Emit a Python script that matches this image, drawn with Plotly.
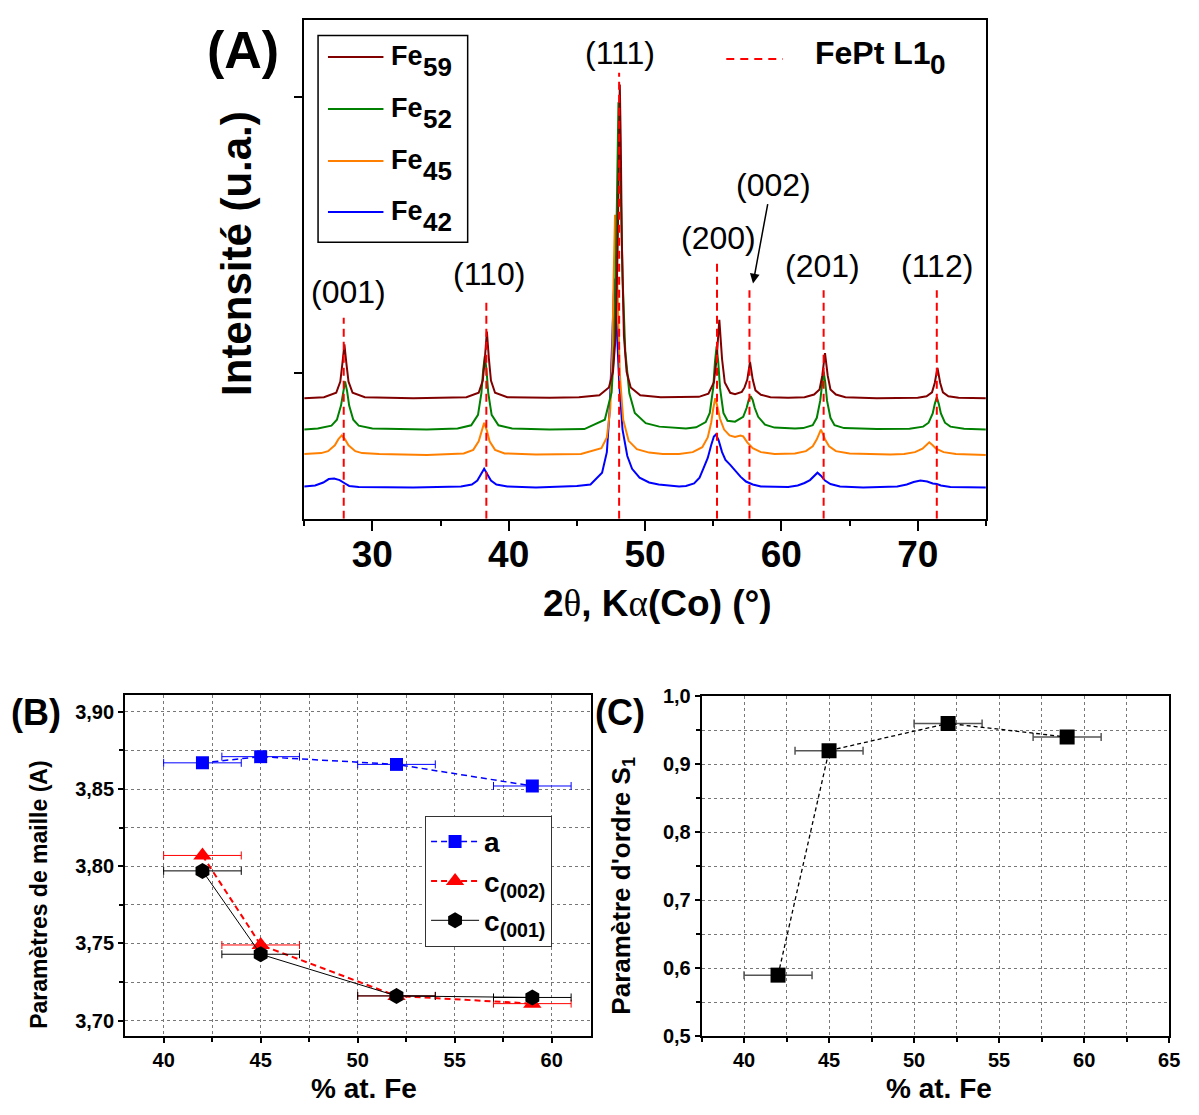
import plotly.graph_objects as go

W, H = 1199, 1115
FONT = "Liberation Sans, Arial, sans-serif"


def px(x):
    return x / W


def py(y):
    return 1 - y / H


# ---------------- Panel A data (XRD patterns, arbitrary intensity units) ----------------
fe59_x = [25, 26.45, 27.35, 27.65, 27.8, 27.95, 28.1, 28.25, 28.55, 29.45, 33, 36.9, 37.8, 38.1, 38.25, 38.4, 38.55, 38.7, 39.0, 39.9,
          43, 45.15, 46.65, 47.35, 47.65, 47.85, 48.0, 48.08, 48.15, 48.22, 48.3, 48.45, 48.65, 48.95, 49.65, 51.15,
          53.95, 54.65, 55.05, 55.25, 55.45, 55.65, 55.85, 56.25, 56.6, 57.1, 57.3, 57.5, 57.7, 57.9, 58.1, 58.5, 59.2,
          60.5, 61.7, 62.4, 62.8, 63.0, 63.2, 63.4, 63.6, 64.0, 64.7, 67, 70.0, 70.65, 71.05, 71.25, 71.45, 71.65, 71.85,
          72.25, 73.0, 75]
fe59_y = [123, 124, 128.5, 140, 158, 178, 158, 140, 128.5, 124, 123, 124, 128.6, 141, 163, 191, 163, 141, 128.6, 124,
          123.5, 124, 126, 134, 150, 187, 283, 385, 443, 385, 283, 187, 150, 134, 126, 124,
          124.4, 127.7, 139, 163, 203, 163, 139, 128.5, 127, 129.5, 134, 142, 160, 142, 131, 126.5, 124,
          123.5, 124, 126.7, 132, 146, 169, 146, 132, 126.7, 124, 123, 123.5, 125, 129, 138.5, 154, 138.5, 129,
          125, 123.5, 123]

fe52_x = [25, 26.0, 27.0, 27.4, 27.7, 27.85, 28.0, 28.15, 28.3, 28.6, 29.0, 30.0, 34, 36.25, 37.25, 37.75, 38.0, 38.13, 38.25,
          38.37, 38.5, 38.75, 39.25, 40.25, 43, 45.55, 47.05, 47.55, 47.75, 47.9, 47.98, 48.05, 48.12, 48.2, 48.35, 48.55,
          48.85, 49.25, 50.05, 51.05, 53.0, 53.75, 54.45, 54.75, 55.0, 55.13, 55.25, 55.37, 55.5, 55.75, 56.05, 56.6,
          57.2, 57.45, 57.6, 57.75, 57.9, 58.05, 58.3, 58.8, 59.5, 61.0, 61.6, 62.3, 62.6, 62.85, 62.98, 63.1, 63.22,
          63.35, 63.6, 63.9, 64.6, 67.0, 69.4, 70.4, 70.8, 71.1, 71.25, 71.4, 71.55, 71.7, 72.0, 72.4, 73.4, 75]
fe52_y = [91, 92, 95, 101, 115.5, 130, 140, 130, 115.5, 101, 95, 92, 91, 92, 95.4, 106, 128.5, 152, 166,
          152, 128.5, 106, 95.4, 92, 91, 91.5, 101, 129, 179, 288, 381, 425, 405, 351, 247, 171,
          128, 108, 97.5, 94, 92, 93.3, 98.6, 108, 133.5, 160, 176, 160, 133.5, 108, 100, 99,
          104, 113, 121, 125, 121, 113, 104, 96, 93, 92, 92.5, 95.5, 103, 120.5, 139, 150, 139,
          120.5, 103, 95.5, 92.5, 91.5, 91.8, 94, 98, 107.5, 117, 124, 117, 107.5, 98, 94, 91.8, 91]

fe45_x = [25, 26.25, 26.75, 27.25, 27.5, 27.75, 28.0, 28.25, 28.75, 29.25, 30.5, 34, 36.7, 37.4, 37.8, 38.0, 38.2, 38.4,
          38.6, 39.0, 39.7, 42, 45.3, 46.8, 47.2, 47.45, 47.6, 47.7, 47.8, 47.9, 48.0, 48.15, 48.4, 48.8, 49.4, 50.3,
          51.3, 52.5, 53.5, 54.2, 54.6, 54.85, 55.0, 55.15, 55.3, 55.5, 55.8, 56.2, 56.6, 57.0, 57.2, 57.5, 57.9, 58.5,
          59.5, 61.0, 61.8, 62.3, 62.6, 62.75, 62.9, 63.05, 63.2, 63.5, 64.0, 65.0, 68.0, 69.0, 69.8, 70.35, 70.6,
          70.85, 71.1, 71.35, 71.9, 72.8, 75]
fe45_y = [66, 67, 69, 75, 81, 85, 81, 75, 69, 67, 66, 65, 66.7, 70.3, 79, 90, 98, 90,
          79, 70.3, 66.7, 65.5, 66, 72, 83, 112, 168, 247, 310, 276, 214, 148, 101, 79.5, 71, 67.5,
          66.2, 66, 68, 73, 83, 98, 112, 123, 115, 102, 91, 85, 83.5, 85, 84, 78, 72, 68,
          66, 66.5, 69, 74, 81, 86.5, 91, 86.5, 81, 74, 69, 66.5, 65.5, 66, 68, 71.5, 75,
          78, 75, 71.5, 68, 66, 65]

fe42_x = [25, 25.8, 26.4, 26.8, 27.2, 27.6, 28.0, 28.3, 29, 33, 36.5, 37.3, 37.7, 37.95, 38.2, 38.45, 38.7, 39.1, 39.9,
          42, 45.0, 46.0, 46.85, 47.2, 47.4, 47.55, 47.65, 47.75, 47.85, 47.95, 48.1, 48.35, 48.7, 49.05, 49.6, 50.3,
          51.0, 52.5, 53.0, 53.6, 54.0, 54.3, 54.6, 54.85, 55.05, 55.2, 55.4, 55.65, 55.9, 56.25, 56.6, 57.0, 57.4,
          57.9, 58.5, 59.5, 60.5, 61.2, 61.7, 62.1, 62.4, 62.65, 62.9, 63.2, 63.6, 64.3, 66, 68.5, 69.2, 69.7, 70.2,
          70.7, 71.1, 71.4, 71.7, 72.4, 75]
fe42_y = [33, 34, 37, 40.5, 41, 39.5, 36, 33.5, 32.5, 32, 33, 35, 39, 45, 51, 45, 39, 35, 33,
          32, 33.5, 35, 47, 68, 110, 165, 215, 245, 222, 185, 140, 91, 64, 51, 42, 37,
          35, 33, 33.5, 36, 42, 52, 62, 75, 84, 86, 80, 68, 60, 55, 49, 43, 38,
          35, 33, 32.5, 32.5, 34, 36.5, 39.5, 44, 47, 44, 39, 35.5, 33, 32, 33, 35, 37.5, 39,
          38, 36, 35.5, 34, 32.5, 32]

# FePt L1_0 reference reflections
hkl_labels = ["(001)", "(110)", "(111)", "(200)", "(002)", "(201)", "(112)"]
hkl_pos = [27.9, 38.36, 48.1, 55.28, 57.66, 63.1, 71.4]

# ---------------- Panels B and C data ----------------
fe_pct = [42, 45, 52, 59]
fe_err = [2, 2, 2, 2]
a_param = [3.867, 3.871, 3.866, 3.852]
c002_param = [3.807, 3.749, 3.716, 3.711]
c001_param = [3.797, 3.743, 3.716, 3.715]
s_order = [0.59, 0.92, 0.96, 0.94]

# ---------------- styling / layout helpers ----------------
series_A = [
    ("Fe", "42", fe42_x, fe42_y, "#0000FF"),
    ("Fe", "45", fe45_x, fe45_y, "#FF8000"),
    ("Fe", "52", fe52_x, fe52_y, "#008000"),
    ("Fe", "59", fe59_x, fe59_y, "#800000"),
]
hkl_line_top = [205, 225, 455, 261, 233, 233, 233]
hkl_label_xy = [(28.27, 231), (38.52, 250), (48.18, 475), (55.38, 286), (59.45, 340), (63.0, 258), (71.44, 258)]

fig = go.Figure()

for _, _, xs, ys, col in series_A:
    fig.add_trace(go.Scatter(x=xs, y=ys, mode="lines", line=dict(color=col, width=2),
                             showlegend=False, xaxis="x", yaxis="y", hoverinfo="skip"))

for pos, top in zip(hkl_pos, hkl_line_top):
    fig.add_trace(go.Scatter(x=[pos, pos], y=[0, top], mode="lines",
                             line=dict(color="#FF0000", width=2, dash="8px,5px"),
                             showlegend=False, xaxis="x", yaxis="y", hoverinfo="skip"))

# Panel B
fig.add_trace(go.Scatter(x=fe_pct, y=a_param, mode="lines+markers", name="a",
                         line=dict(color="#0000FF", width=1.5, dash="6px,4px"),
                         marker=dict(symbol="square", size=13, color="#0000FF"),
                         error_x=dict(type="data", array=fe_err, color="#0000FF", thickness=1, width=4),
                         xaxis="x2", yaxis="y2", legend="legend2"))
fig.add_trace(go.Scatter(x=fe_pct, y=c002_param, mode="lines+markers", name="c<sub>(002)</sub>",
                         line=dict(color="#FF0000", width=2, dash="6px,4px"),
                         marker=dict(symbol="triangle-up", size=16, color="#FF0000"),
                         error_x=dict(type="data", array=fe_err, color="#FF0000", thickness=1, width=4),
                         xaxis="x2", yaxis="y2", legend="legend2"))
fig.add_trace(go.Scatter(x=fe_pct, y=c001_param, mode="lines+markers", name="c<sub>(001)</sub>",
                         line=dict(color="#000000", width=1),
                         marker=dict(symbol="hexagon", size=16, color="#000000"),
                         error_x=dict(type="data", array=fe_err, color="#000000", thickness=1, width=4),
                         xaxis="x2", yaxis="y2", legend="legend2"))

# Panel C
fig.add_trace(go.Scatter(x=fe_pct, y=s_order, mode="lines+markers", showlegend=False,
                         line=dict(color="#000000", width=1.3, dash="4px,3px"),
                         marker=dict(symbol="square", size=15, color="#000000"),
                         error_x=dict(type="data", array=fe_err, color="#555555", thickness=1.5, width=4),
                         xaxis="x3", yaxis="y3"))

tick_bold = dict(family=FONT, size=20, color="black", weight="bold")
grid_common = dict(showgrid=True, gridcolor="#777777", griddash="dot", gridwidth=1)
box_common = dict(showline=True, linecolor="black", linewidth=1.5, mirror=True, zeroline=False,
                  ticks="outside", ticklen=5, tickwidth=1.5, tickcolor="black")
minor_grid = dict(ticks="outside", ticklen=4, showgrid=True, gridcolor="#777777", griddash="dot", gridwidth=1)

fig.update_layout(
    width=W, height=H, margin=dict(l=0, r=0, t=0, b=0),
    paper_bgcolor="white", plot_bgcolor="white",
    separators=", ",
    showlegend=True,
    xaxis=dict(domain=[px(307), px(995)], range=[25, 75], anchor="y",
               showline=True, linecolor="black", linewidth=2, mirror=True, zeroline=False, showgrid=False,
               ticks="outside", ticklen=10, tickwidth=2, tickcolor="black", tick0=0, dtick=10,
               ticklabelstandoff=-8,
               minor=dict(dtick=5, ticks="outside", ticklen=5, tickwidth=2, tickcolor="black"),
               tickfont=dict(family=FONT, size=37, color="black", weight="bold")),
    yaxis=dict(domain=[py(518), py(9)], range=[0, 509], anchor="x",
               showline=True, linecolor="black", linewidth=2, mirror=True, zeroline=False, showgrid=False,
               ticks="outside", ticklen=8, tickwidth=2, tickcolor="black",
               tickmode="array", tickvals=[149, 430], ticktext=["", ""]),
    xaxis2=dict(domain=[px(126), px(596)], range=[38, 62], anchor="y2", tick0=0, dtick=5,
                minor=dict(dtick=2.5, **minor_grid), tickfont=tick_bold, **grid_common, **box_common),
    yaxis2=dict(domain=[py(1046), py(698)], range=[3.6898, 3.9108], anchor="x2", tick0=3.7, dtick=0.05,
                tickformat=".2f", minor=dict(dtick=0.025, **minor_grid),
                tickfont=tick_bold, **grid_common, **box_common),
    xaxis3=dict(domain=[px(708), px(1180)], range=[37.5, 65], anchor="y3", tick0=0, dtick=5,
                minor=dict(dtick=2.5, **minor_grid), tickfont=tick_bold, **grid_common, **box_common),
    yaxis3=dict(domain=[py(1046), py(699)], range=[0.5, 1.0], anchor="x3", tick0=0.5, dtick=0.1,
                tickformat=".1f", minor=dict(dtick=0.05, **minor_grid),
                tickfont=tick_bold, **grid_common, **box_common),
    legend2=dict(x=px(429), y=py(821), xanchor="left", yanchor="top", bgcolor="white",
                 bordercolor="#333333", borderwidth=1,
                 font=dict(family=FONT, size=28, color="black", weight="bold"), itemwidth=48),
)

ann = []


def text(x, y, s, size, bold=True, xanchor="center", yanchor="middle", angle=0, xref="paper", yref="paper"):
    ann.append(dict(x=x, y=y, xref=xref, yref=yref, text=s, showarrow=False, textangle=angle,
                    xanchor=xanchor, yanchor=yanchor,
                    font=dict(family=FONT, size=size, color="black", weight="bold" if bold else "normal")))


SERIF = "font-family:Liberation Serif, Times New Roman, serif;font-weight:normal"

# Panel A texts
text(px(245), py(40), "(A)", 52)
text(px(238), py(247), "Intensité (u.a.)", 42, angle=-90)
text(px(664), py(604),
     f"2<span style='{SERIF}'>θ</span>, K<span style='{SERIF}'>α</span>(Co) (°)", 37)
for lab, (lx, ly) in zip(hkl_labels, hkl_label_xy):
    text(lx, ly, lab, 32, bold=False, xref="x", yref="y")
ann.append(dict(x=57.92, y=240, xref="x", yref="y", ax=15, ay=-81, text="", showarrow=True,
                arrowhead=2, arrowsize=1.3, arrowwidth=1.5, arrowcolor="black"))

# Panel A legend (drawn)
shapes = [dict(type="rect", xref="paper", yref="paper", x0=px(321), x1=px(472), y0=py(236), y1=py(25),
               line=dict(color="black", width=1.5))]
leg_rows = [47, 100, 153, 205]
for (base, sub, _, _, col), yy in zip(series_A[::-1], leg_rows):
    shapes.append(dict(type="line", xref="paper", yref="paper", x0=px(331), x1=px(387), y0=py(yy), y1=py(yy),
                       line=dict(color=col, width=2)))
    text(px(393), py(yy - 1), base, 27, xanchor="left")
    text(px(425), py(yy + 10), sub, 26, xanchor="left")

shapes.append(dict(type="line", xref="paper", yref="paper", x0=px(733), x1=px(790), y0=py(49), y1=py(49),
                   line=dict(color="#FF0000", width=2, dash="8px,6px")))
text(px(821), py(43), "FePt L1", 32, xanchor="left")
text(px(937), py(55), "0", 28, xanchor="left")

# Panel B / C texts
text(px(36), py(716), "(B)", 36)
text(px(40), py(902), "Paramètres de maille (A)", 23, angle=-90)
text(px(367), py(1099), "% at. Fe", 28)
text(px(626), py(716), "(C)", 36)
text(px(628), py(892), "Paramètre d'ordre S<sub>1</sub>", 26, angle=-90)
text(px(948), py(1099), "% at. Fe", 28)

fig.update_layout(annotations=ann, shapes=shapes)
fig.write_html(
    "out.html", config={"displayModeBar": False},
    post_script=("document.documentElement.style.margin='0px';document.documentElement.style.overflow='hidden';"
                 "document.body.style.margin='0px';document.body.style.padding='0px';"
                 "document.body.style.overflow='hidden';"))
